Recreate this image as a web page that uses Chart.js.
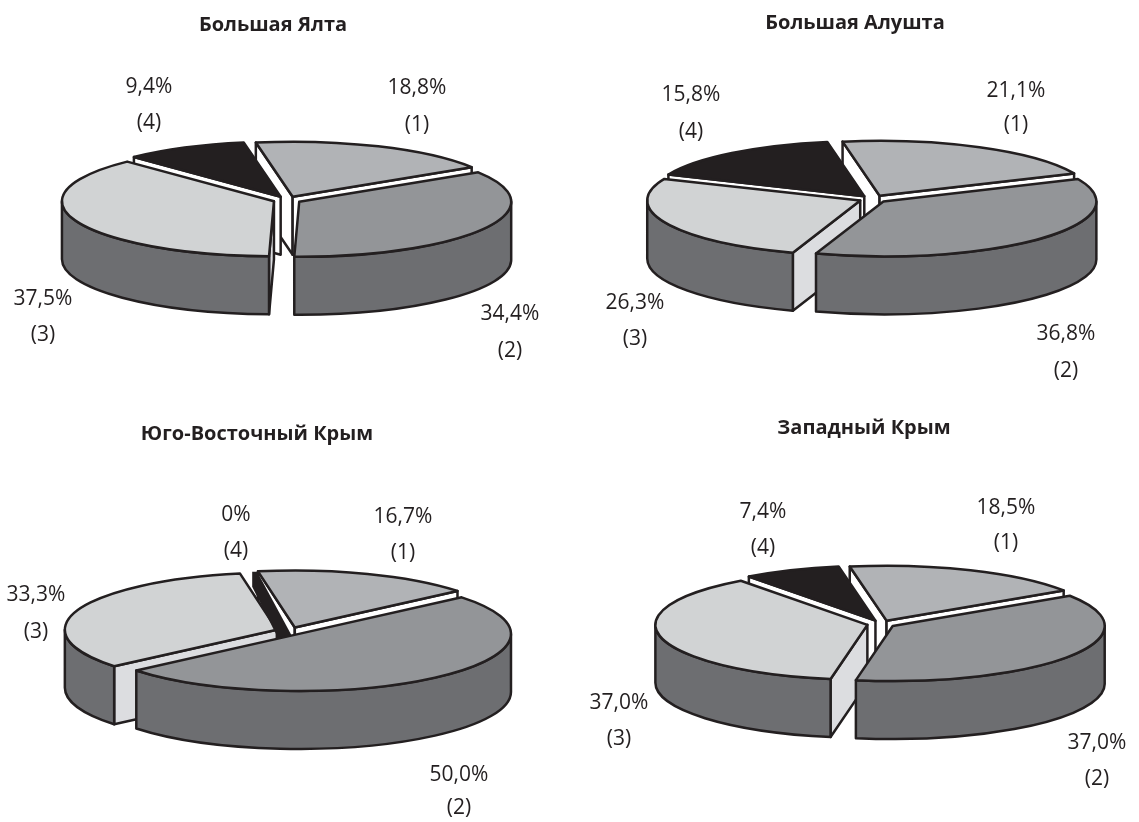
<!DOCTYPE html>
<html>
<head>
<meta charset="utf-8">
<title>Крым</title>
<script src="https://cdn.jsdelivr.net/npm/chart.js@4"></script>
<style>
	html, body { margin: 0; background: #fff; }
	#wrap { position: relative; width: 1139px; height: 822px; overflow: hidden; }
	#wrap canvas { position: absolute; left: 0; top: 0; }
</style>
</head>
<body>
<div id="wrap">
	<canvas id="yalta" width="1139" height="822"></canvas>
	<canvas id="alushta" width="1139" height="822"></canvas>
	<canvas id="southeast" width="1139" height="822"></canvas>
	<canvas id="west" width="1139" height="822"></canvas>
</div>
<script>
var categories = ['(1)', '(2)', '(3)', '(4)'];

var yaltaValues = [18.8, 34.4, 37.5, 9.4];
var alushtaValues = [21.1, 36.8, 26.3, 15.8];
var southeastValues = [16.7, 50.0, 33.3, 0];
var westValues = [18.5, 37.0, 37.0, 7.4];

var topColors = ['#b1b3b6', '#939598', '#d1d3d4', '#231f20'];
var faceColors = ['#ffffff', '#dcdde0', '#dcdde0', '#ffffff'];
var wallColor = '#6d6e71';
var inkColor = '#231f20';
var labelFont = '21px "Open Sans"';
var titleFont = 'bold 20px "Open Sans"';

// cx, cy - pie centre; labels - where each category's value/name pair sits
var pies = [
	{ id: 'yalta', title: 'Большая Ялта', values: yaltaValues, cx: 287, cy: 200, r: 212, ry: 55,
		titleAt: [273, 25], labels: [[417, 88, 125], [510, 314, 351], [43, 299, 335], [149, 87, 123]] },
	{ id: 'alushta', title: 'Большая Алушта', values: alushtaValues, cx: 873, cy: 199, r: 213, ry: 55,
		titleAt: [855, 23], labels: [[1016, 91, 125], [1066, 334, 371], [635, 303, 339], [691, 95, 132]] },
	{ id: 'southeast', title: 'Юго-Восточный Крым', values: southeastValues, cx: 290, cy: 631, r: 212, ry: 57,
		titleAt: [257, 434], labels: [[403, 517, 553], [459, 775, 808], [36, 595, 632], [236, 515, 551]] },
	{ id: 'west', title: 'Западный Крым', values: westValues, cx: 881, cy: 624, r: 212, ry: 55,
		titleAt: [864, 428], labels: [[1006, 508, 543], [1097, 743, 779], [619, 703, 739], [763, 512, 548]] }
];
var depth = 58;
var explode = 14;

function valueText(v) {
	return v === 0 ? '0%' : v.toFixed(1).replace('.', ',') + '%';
}

// every arc is laid flat: the library gives the angles, the ellipse gives the tilt
var flatPie = {
	id: 'flatPie',
	beforeDatasetsDraw: function(chart) {
		var pie = chart.options.plugins.flatPie;
		var ctx = chart.ctx;
		var arcs = chart.getDatasetMeta(0).data;
		var tilt = pie.ry / pie.r;
		var order = [];

		arcs.forEach(function(arc, i) {
			var p = arc.getProps(['x', 'y', 'startAngle', 'endAngle', 'outerRadius'], true);
			var mid = (p.startAngle + p.endAngle) / 2;
			var off = arc.options.offset;
			var empty = p.endAngle - p.startAngle < 0.001;
			order.push({
				i: i,
				start: p.startAngle,
				end: p.endAngle,
				r: p.outerRadius,
				x: p.x + Math.cos(mid) * off,
				y: p.y + Math.sin(mid) * off * tilt,
				empty: empty,
				key: empty ? 0 : Math.sin(mid)
			});
		});
		order.sort(function(a, b) { return a.key - b.key; });

		ctx.save();
		ctx.lineJoin = 'round';
		ctx.lineWidth = 2.5;
		ctx.strokeStyle = inkColor;

		function rim(s, a) {
			return [s.x + Math.cos(a) * s.r, s.y + Math.sin(a) * s.r * tilt];
		}

		function face(s, a) {
			var e = rim(s, a);
			ctx.beginPath();
			ctx.moveTo(s.x, s.y);
			ctx.lineTo(e[0], e[1]);
			ctx.lineTo(e[0], e[1] + depth);
			ctx.lineTo(s.x, s.y + depth);
			ctx.closePath();
			ctx.fillStyle = faceColors[s.i];
			ctx.fill();
			ctx.stroke();
		}

		order.forEach(function(s) {
			if (s.empty) {
				// nothing to open up: the empty share is just a dark seam in the cut
				var e = rim(s, s.start);
				ctx.beginPath();
				ctx.moveTo(e[0] - 1, e[1] - 3);
				ctx.lineTo(e[0] + 4, e[1] - 3);
				ctx.lineTo(s.x + 3, s.y + 7);
				ctx.lineTo(s.x - 12, s.y + 7);
				ctx.lineTo(e[0] - 1, e[1] + 12);
				ctx.closePath();
				ctx.fillStyle = topColors[s.i];
				ctx.fill();
				return;
			}

			if (Math.cos(s.start) < 0) face(s, s.start);
			if (Math.cos(s.end) > 0) face(s, s.end);

			// outer wall, only the part turned towards the front
			var a0 = Math.max(s.start, 0);
			var a1 = Math.min(s.end, Math.PI);
			if (a1 > a0) {
				ctx.beginPath();
				ctx.ellipse(s.x, s.y, s.r, s.r * tilt, 0, a0, a1);
				ctx.ellipse(s.x, s.y + depth, s.r, s.r * tilt, 0, a1, a0, true);
				ctx.closePath();
				ctx.fillStyle = wallColor;
				ctx.fill();
				ctx.stroke();
			}

			ctx.beginPath();
			ctx.moveTo(s.x, s.y);
			ctx.ellipse(s.x, s.y, s.r, s.r * tilt, 0, s.start, s.end);
			ctx.closePath();
			ctx.fillStyle = topColors[s.i];
			ctx.fill();
			ctx.stroke();
		});
		ctx.restore();
		return false;
	},
	afterDraw: function(chart) {
		var pie = chart.options.plugins.flatPie;
		var ctx = chart.ctx;
		ctx.save();
		ctx.fillStyle = inkColor;
		ctx.textAlign = 'center';
		ctx.textBaseline = 'middle';
		ctx.font = titleFont;
		ctx.fillText(pie.title, pie.titleAt[0], pie.titleAt[1]);
		ctx.font = labelFont;
		categories.forEach(function(name, i) {
			var at = pie.labels[i];
			ctx.fillText(valueText(pie.values[i]), at[0], at[1]);
			ctx.fillText(name, at[0], at[2]);
		});
		ctx.restore();
	}
};

pies.forEach(function(pie) {
	var w = 1139, h = 822;
	new Chart(document.getElementById(pie.id), {
		type: 'pie',
		data: {
			labels: categories,
			datasets: [{
				data: pie.values,
				backgroundColor: topColors,
				offset: pie.values.map(function(v) { return v === 0 ? 0 : explode; }),
				hoverOffset: 0,
				borderWidth: 0
			}]
		},
		options: {
			responsive: false,
			animation: false,
			events: [],
			rotation: -10,
			radius: pie.r,
			layout: {
				padding: {
					left: Math.max(0, 2 * pie.cx - w),
					right: Math.max(0, w - 2 * pie.cx),
					top: Math.max(0, 2 * pie.cy - h),
					bottom: Math.max(0, h - 2 * pie.cy)
				}
			},
			plugins: {
				legend: { display: false },
				tooltip: { enabled: false },
				flatPie: pie
			}
		},
		plugins: [flatPie]
	});
});
</script>
</body>
</html>
